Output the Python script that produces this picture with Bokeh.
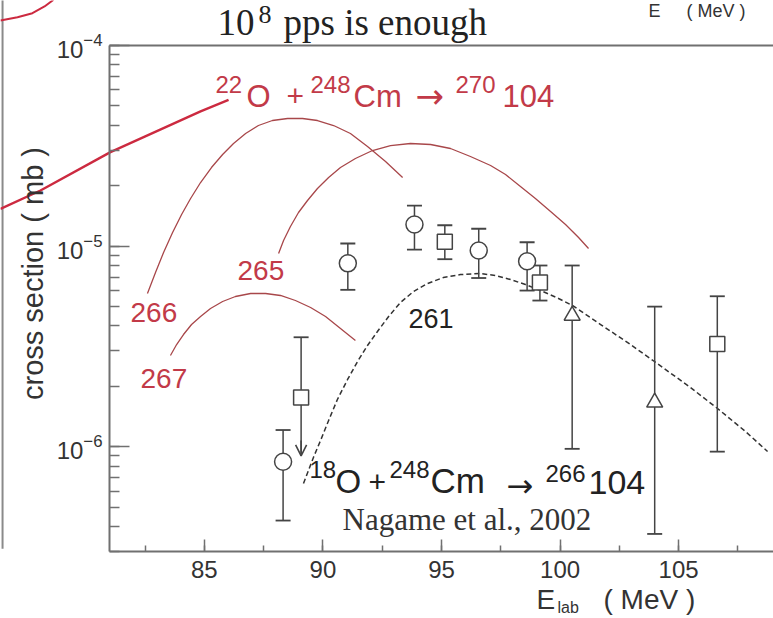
import numpy as np
from bokeh.plotting import figure
from bokeh.models import (Label, Arrow, OpenHead, LinearAxis, FixedTicker,
                          SingleIntervalTicker)
from bokeh.embed import file_html
from bokeh.resources import INLINE

# ---------------- data ----------------
# 18O + 248Cm -> 266-xn 104, Nagame et al., 2002
circ_E  = [88.32, 91.05, 93.86, 96.57, 98.61]
circ_s  = [8.4e-7, 8.2e-6, 1.28e-5, 9.5e-6, 8.4e-6]
circ_hi = [1.21e-6, 1.03e-5, 1.59e-5, 1.22e-5, 1.045e-5]
circ_lo = [4.28e-7, 6.05e-6, 9.6e-6, 6.93e-6, 6.0e-6]

sq_E  = [95.14, 99.15, 106.63]
sq_s  = [1.05e-5, 6.59e-6, 3.25e-6]
sq_hi = [1.27e-5, 8.0e-6, 5.62e-6]
sq_lo = [8.6e-6, 5.35e-6, 9.44e-7]

ul_E   = [89.08]        # upper-limit point
ul_s   = [1.76e-6]
ul_hi  = [3.51e-6]
ul_tip = [9.0e-7]

tri_E  = [100.51, 103.99]
tri_s  = [4.5e-6, 1.66e-6]
tri_hi = [8.0e-6, 4.99e-6]
tri_lo = [9.75e-7, 3.67e-7]

# calculation for 261 (dashed)
c261_E = [89.18, 89.39, 89.60, 89.90, 90.24, 90.61, 91.04, 91.46, 91.88,
          92.30, 92.77, 93.27, 93.82, 94.41, 95.08, 95.80, 96.64, 97.28,
          97.91, 98.54, 99.18, 99.85, 100.52, 101.71, 102.97, 103.98,
          105.50, 106.64, 107.82, 108.75]
c261_s = [6.55e-7, 7.60e-7, 8.83e-7, 1.073e-6, 1.350e-6, 1.718e-6, 2.162e-6,
          2.657e-6, 3.192e-6, 3.750e-6, 4.455e-6, 5.232e-6, 5.935e-6,
          6.505e-6, 6.967e-6, 7.212e-6, 7.295e-6, 7.129e-6, 6.809e-6,
          6.429e-6, 6.003e-6, 5.539e-6, 5.055e-6, 4.063e-6, 3.229e-6,
          2.657e-6, 1.971e-6, 1.549e-6, 1.189e-6, 9.46e-7]

# 22O + 248Cm -> 270-xn 104 predictions
c266_E = [82.60, 82.94, 83.28, 83.66, 84.04, 84.42, 84.84, 85.30, 85.77,
          86.23, 86.74, 87.28, 87.87, 88.51, 89.14, 89.77, 90.45, 91.16,
          91.88, 92.64, 93.36]
c266_s = [5.80e-6, 7.38e-6, 9.29e-6, 1.168e-5, 1.437e-5, 1.726e-5, 2.074e-5,
          2.464e-5, 2.860e-5, 3.246e-5, 3.640e-5, 3.991e-5, 4.227e-5,
          4.325e-5, 4.325e-5, 4.227e-5, 3.991e-5, 3.640e-5, 3.135e-5,
          2.640e-5, 2.196e-5]
c265_E = [88.13, 88.34, 88.63, 88.97, 89.35, 89.77, 90.24, 90.74, 91.37,
          92.09, 92.85, 93.69, 94.54, 95.38, 96.22, 97.07, 97.70, 98.33,
          98.96, 99.60, 100.23, 100.78, 101.20]
c265_s = [9.18e-6, 1.066e-5, 1.252e-5, 1.470e-5, 1.687e-5, 1.936e-5,
          2.196e-5, 2.464e-5, 2.732e-5, 2.995e-5, 3.171e-5, 3.246e-5,
          3.209e-5, 3.065e-5, 2.796e-5, 2.521e-5, 2.274e-5, 1.981e-5,
          1.726e-5, 1.487e-5, 1.281e-5, 1.103e-5, 9.72e-6]
c267_E = [83.57, 83.83, 84.12, 84.46, 84.84, 85.26, 85.77, 86.31, 86.95,
          87.58, 88.21, 88.84, 89.48, 90.11, 90.74, 91.37]
c267_s = [2.847e-6, 3.229e-6, 3.622e-6, 4.063e-6, 4.455e-6, 4.885e-6,
          5.292e-6, 5.604e-6, 5.80e-6, 5.80e-6, 5.670e-6, 5.353e-6,
          4.941e-6, 4.455e-6, 3.881e-6, 3.381e-6]

# pieces of the neighbouring panel of the cropped slide
bg_line_E = [76.40, 78.09, 81.04, 84.84, 86.02]
bg_line_s = [1.534e-5, 1.892e-5, 2.94e-5, 4.69e-5, 5.36e-5]
bg_arc_E  = [76.40, 77.12, 77.75, 78.26, 78.60, 78.72]
bg_arc_s  = [1.333e-4, 1.384e-4, 1.449e-4, 1.565e-4, 1.677e-4, 1.776e-4]
bg_vline_E = [76.49, 76.49]
bg_vline_s = [1.776e-4, 3.10e-7]

x_ticks_interval = 5

# ---------------- geometry ----------------
W, H = 773, 618
FL, FT, FR, FB = 109, 45, 773, 551          # axes box inside the canvas
X0, X1 = 81.0, 109.0
Y0, Y1 = 3e-7, 1e-4
XS = (FR - FL) / (X1 - X0)
YS = (FB - FT) / np.log10(Y1 / Y0)


def dx(px):
    return X0 + (px - FL) / XS


def dy(py):
    return 10 ** (np.log10(Y1) - (py - FT) / YS)


GRAY = "#707070"
INK = "#444444"
RED_T = "#c23a48"
RED_C = "#a8474a"
RED_L = "#cc2a40"

p = figure(width=W, height=H, x_range=(dx(0), dx(W)), y_range=(dy(H), dy(0)),
           y_axis_type="log", output_backend="svg", toolbar_location=None,
           min_border_left=0, min_border_right=0, min_border_top=0,
           min_border_bottom=0)
p.title.visible = False
p.outline_line_color = None
p.xgrid.visible = False
p.ygrid.visible = False
p.background_fill_color = "white"
p.border_fill_color = "white"

# axes (library axes, pinned to the box edges)
xa = p.xaxis[0]
xa.ticker = SingleIntervalTicker(interval=x_ticks_interval, num_minor_ticks=2)
xa.fixed_location = Y0
xa.bounds = (X0, X1)
ya = p.yaxis[0]
ya.fixed_location = X0
ya.bounds = (Y0, Y1)
for ax in (xa, ya):
    ax.axis_line_color = GRAY
    ax.axis_line_width = 2
    ax.major_tick_line_color = GRAY
    ax.minor_tick_line_color = GRAY
    ax.major_tick_line_width = 1.5
    ax.minor_tick_line_width = 1.5
    ax.major_tick_out = 0
    ax.minor_tick_out = 0
    ax.major_label_text_font = "Liberation Sans"
    ax.major_label_text_font_size = "24px"
    ax.major_label_text_color = "#333333"
xa.major_tick_in = 12
xa.minor_tick_in = 6
xa.major_label_standoff = 9
ya.major_tick_in = 20
ya.minor_tick_in = 10
ya.major_label_standoff = 7

top = LinearAxis(ticker=FixedTicker(ticks=[]), major_label_text_font_size="0px",
                 axis_line_color=GRAY, axis_line_width=2, major_tick_in=0,
                 major_tick_out=0, minor_tick_in=0, minor_tick_out=0,
                 fixed_location=Y1, bounds=(X0, X1))
p.add_layout(top, "above")

# neighbouring-panel pieces
p.line(bg_vline_E, bg_vline_s, line_color="#8a8a8a", line_width=2)
p.line(bg_line_E, bg_line_s, line_color=RED_L, line_width=2.4)
p.line(bg_arc_E, bg_arc_s, line_color=RED_L, line_width=2)

# curves
p.line(c266_E, c266_s, line_color=RED_C, line_width=1.3)
p.line(c265_E, c265_s, line_color=RED_C, line_width=1.3)
p.line(c267_E, c267_s, line_color=RED_C, line_width=1.3)
p.line(c261_E, c261_s, line_color="#333333", line_width=1.5, line_dash="5 3")

# error bars
for E, lo, hi in ((circ_E, circ_lo, circ_hi), (sq_E, sq_lo, sq_hi), (tri_E, tri_lo, tri_hi)):
    p.segment(E, lo, E, hi, line_color=INK, line_width=1.5)
    p.scatter(E, lo, marker="dash", size=15, line_color=INK, line_width=1.8)
    p.scatter(E, hi, marker="dash", size=15, line_color=INK, line_width=1.8)
p.segment(ul_E, ul_tip, ul_E, ul_hi, line_color=INK, line_width=1.5)
p.scatter(ul_E, ul_hi, marker="dash", size=15, line_color=INK, line_width=1.8)
p.add_layout(Arrow(end=OpenHead(size=11, line_color=INK, line_width=1.6),
                   x_start=ul_E[0], y_start=dy(440), x_end=ul_E[0], y_end=ul_tip[0],
                   line_color=INK, line_width=1.5))

# markers
p.scatter(circ_E, circ_s, marker="circle", size=17, fill_color="white",
          line_color=INK, line_width=1.5)
p.scatter(sq_E + ul_E, sq_s + ul_s, marker="square", size=15, fill_color="white",
          line_color=INK, line_width=1.5)
p.scatter(tri_E, tri_s, marker="triangle", size=16, fill_color="white",
          line_color=INK, line_width=1.5)

BASE_SHIFT = 0.37   # the label baseline lands about 0.37 em lower than asked


def lab(px, py, text, size, color, font="Liberation Sans", align="left",
        baseline="alphabetic", angle=0.0):
    if baseline == "alphabetic":
        py = py - BASE_SHIFT * size
    p.add_layout(Label(x=dx(px), y=dy(py), text=text, text_font=font,
                       text_font_size=f"{size}px", text_color=color,
                       text_align=align, text_baseline=baseline, angle=angle))


SERIF = "Liberation Serif"
ARROWF = "DejaVu Sans"
# headline of the slide
lab(217, 36, "10", 37, "#222222", SERIF)
lab(258, 24, "8", 26, "#222222", SERIF)
lab(283, 36, "pps  is  enough", 37, "#222222", SERIF)
# cropped label of the neighbouring panel
lab(648, 17, "E", 18, "#333333")
lab(686, 17, "( MeV )", 18, "#333333")

# red reaction
lab(215, 93, "22", 24, RED_T)
lab(246, 107, "O", 31, RED_T)
lab(286, 107, "+", 30, RED_T)
lab(310, 93, "248", 24, RED_T)
lab(353, 107, "Cm", 31, RED_T)
lab(415, 108, "\u2192", 34, RED_T, ARROWF)
lab(455, 93, "270", 24, RED_T)
lab(502, 107, "104", 31, RED_T)
lab(130, 322, "266", 28, RED_T)
lab(237, 280, "265", 28, RED_T)
lab(140, 388, "267", 28, RED_T)

# black reaction
lab(408, 328, "261", 27, "#222222")
lab(309, 478, "18", 24, "#222222")
lab(335, 493, "O", 33, "#222222")
lab(368, 493, "+", 30, "#222222")
lab(389, 478, "248", 24, "#222222")
lab(430, 493, "Cm", 35, "#222222")
lab(506, 497, "\u2192", 32, "#222222", ARROWF)
lab(545, 482, "266", 24, "#222222")
lab(588, 495, "104", 34, "#222222")
lab(342, 530, "Nagame et al., 2002", 31, "#333333", SERIF)

# axis titles
lab(32, 273, "cross section ( mb )", 29, "#333333", align="center",
    baseline="middle", angle=np.pi / 2)
lab(536, 609, "E", 28, "#333333")
lab(557, 613, "lab", 16, "#333333")
lab(603, 609, "( MeV )", 28, "#333333")

open("out.html", "w").write(file_html(p, INLINE))
